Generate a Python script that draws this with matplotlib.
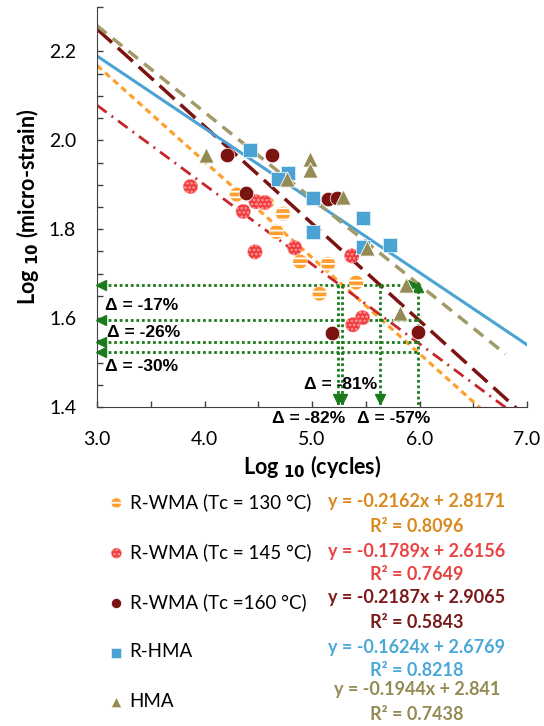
import numpy as np
import matplotlib
matplotlib.use("Agg")
import matplotlib.pyplot as plt

plt.rcParams['font.family'] = ['Lato', 'DejaVu Sans']
plt.rcParams['hatch.linewidth'] = 1.3

# data (log10 cycles, log10 micro-strain)
wma130_x = [4.30, 4.58, 4.73, 4.67, 4.89, 5.15, 5.07, 5.41]
wma130_y = [1.878, 1.860, 1.835, 1.794, 1.727, 1.722, 1.655, 1.680]
wma145_x = [3.87, 4.36, 4.48, 4.56, 4.47, 4.84, 5.37, 5.47, 5.38]
wma145_y = [1.896, 1.840, 1.862, 1.860, 1.749, 1.758, 1.740, 1.601, 1.585]
wma160_x = [4.21, 4.63, 4.39, 5.15, 5.23, 5.19, 5.99]
wma160_y = [1.968, 1.968, 1.882, 1.867, 1.871, 1.567, 1.569]
rhma_x = [4.42, 4.78, 4.68, 5.01, 5.01, 5.47, 5.47, 5.73]
rhma_y = [1.979, 1.927, 1.912, 1.871, 1.794, 1.826, 1.761, 1.765]
hma_x = [4.01, 4.98, 4.98, 5.29, 4.77, 5.51, 5.87, 5.82]
hma_y = [1.968, 1.957, 1.934, 1.873, 1.912, 1.758, 1.675, 1.612]

# trend lines: slope, intercept, R2, x end
slopes = [-0.2162, -0.1789, -0.2187, -0.1624, -0.1944]
intercepts = [2.8171, 2.6156, 2.9065, 2.6769, 2.841]
r2 = ["0.8096", "0.7649", "0.5843", "0.8218", "0.7438"]
x_ends = [7.0, 7.0, 7.0, 7.0, 6.8]
names = ["R-WMA (Tc = 130 °C)", "R-WMA (Tc = 145 °C)", "R-WMA (Tc =160 °C)", "R-HMA", "HMA"]
eq_text = ["y = -0.2162x + 2.8171", "y = -0.1789x + 2.6156", "y = -0.2187x + 2.9065",
           "y = -0.1624x + 2.6769", "y = -0.1944x + 2.841"]

# green reduction guides
h_levels = [1.675, 1.596, 1.547, 1.524]
v_levels = [5.24, 5.28, 5.63, 5.99]
h_labels = ["Δ = -17%", "Δ = -26%", "Δ = -30%"]
v_labels = ["Δ = -82%", "Δ = -81%", "Δ = -57%"]

c_or = "#FF9F2E"
c_red = "#EE3A3C"
c_dred = "#7B1410"
c_blue = "#4BA3D3"
c_kh = "#948A54"
c_green = "#1B7A1B"

fig = plt.figure(figsize=(5.44, 7.26), dpi=100)
ax = fig.add_axes([97/544, 1-407/726, 430/544, 400/726])

# trend lines
line_cols = [c_or, "#C8252A", c_dred, c_blue, "#A39A6A"]
line_lw = [2.3, 2.0, 2.5, 2.2, 2.5]
line_dash = [(2.0, 1.4), (4.3, 2.2, 0.7, 2.2), (5.8, 2.3), None, (3.5, 2.3)]
for m, b, xe, c, lw, d in zip(slopes, intercepts, x_ends, line_cols, line_lw, line_dash):
    xx = np.array([3.0, xe])
    ln, = ax.plot(xx, m * xx + b, color=c, lw=lw, zorder=2)
    if d is not None:
        ln.set_dashes(d)

# green guides
for i, y in enumerate(h_levels):
    ax.plot([3.0, 5.99], [y, y], color=c_green, lw=2, ls=(0, (1, 1)), zorder=3)
    ax.plot(3.04, y, marker='<', color=c_green, ms=7, clip_on=False, zorder=4)
for i, x in enumerate(v_levels):
    ax.plot([x, x], [h_levels[0], 1.4], color=c_green, lw=2, ls=(0, (1, 1)), zorder=3)
    if i < 3:
        ax.plot(x, 1.418, marker='v', color=c_green, ms=7, zorder=4)
    else:
        ax.plot(x, h_levels[0] - 0.006, marker='^', color=c_green, ms=7, zorder=4)
        ax.plot(x - 0.05, h_levels[0], marker='>', color=c_green, ms=7, zorder=4)

# scatter points
s = 110
sc1 = ax.scatter(wma130_x, wma130_y, s=s, facecolor=c_or, edgecolor='white', linewidths=0.3,
                 hatch='---', zorder=5)
sc2 = ax.scatter(wma145_x, wma145_y, s=s, facecolor=c_red, edgecolor='#FF9A9A', linewidths=0.3,
                 hatch='....', zorder=5)
sc3 = ax.scatter(wma160_x, wma160_y, s=s, facecolor=c_dred, edgecolor='white', linewidths=0.5, zorder=5)
sc4 = ax.scatter(rhma_x, rhma_y, s=110, marker='s', facecolor=c_blue, edgecolor='#DDEEF8', linewidths=0.6, zorder=5)
sc5 = ax.scatter(hma_x, hma_y, s=120, marker='^', facecolor=c_kh, edgecolor='white', linewidths=0.6, zorder=5)

# delta labels
tfont = dict(fontsize=12.5, fontweight='bold', family=['Liberation Sans', 'DejaVu Sans'])
ax.text(3.07, 1.628, h_labels[0], va='center', **tfont)
ax.text(3.09, 1.567, h_labels[1], va='center', **tfont)
ax.text(3.07, 1.490, h_labels[2], va='center', **tfont)
ax.text(4.63, 1.375, v_labels[0], va='center', clip_on=False, **tfont)
ax.text(4.93, 1.450, v_labels[1], va='center', **tfont)
ax.text(5.42, 1.375, v_labels[2], va='center', clip_on=False, **tfont)

ax.set_xlim(3.0, 7.0)
ax.set_ylim(1.4, 2.3)
ax.set_xticks(np.arange(3.0, 7.01, 1.0))
ax.set_xticks(np.arange(3.5, 7.0, 1.0), minor=True)
ax.set_yticks([1.4, 1.6, 1.8, 2.0, 2.2])
ax.set_yticks([v for v in np.arange(1.45, 2.301, 0.05) if round(v, 2) not in (1.6, 1.8, 2.0, 2.2)], minor=True)
ax.set_xticklabels(["3.0", "4.0", "5.0", "6.0", "7.0"])
ax.set_yticklabels(["1.4", "1.6", "1.8", "2.0", "2.2"])
ax.tick_params(which='both', direction='in', length=4, width=1, color='#404040', labelsize=14)
ax.tick_params(axis='x', pad=17)
ax.tick_params(axis='y', pad=15)
for sp in ['top', 'right']:
    ax.spines[sp].set_visible(False)
for sp in ['left', 'bottom']:
    ax.spines[sp].set_color('#404040')

ax.set_xlabel(r"Log $_{\mathbf{10}}$ (cycles)", fontsize=15.5, fontweight='bold', labelpad=4)
ax.set_ylabel(r"Log $_{\mathbf{10}}$ (micro-strain)", fontsize=15.5, fontweight='bold', labelpad=6)

# legend
fig.legend([sc1, sc2, sc3, sc4, sc5], names, loc='upper left',
           bbox_to_anchor=(107/544, 1-493/726), frameon=False, fontsize=13.5,
           labelspacing=1.72, handletextpad=0.2, handlelength=1.0, markerscale=0.7,
           borderaxespad=0, borderpad=0)

eq_cols = ["#D98A1E", "#E84444", "#7B1A1A", "#4AA8DA", c_kh]
eq_y = [502, 552, 598, 647, 690]
r2_y = [527, 575, 623, 670, 715]
for t, r, c, ye, yr in zip(eq_text, r2, eq_cols, eq_y, r2_y):
    fig.text(417/544, 1-ye/726, t, color=c, fontsize=13, fontweight='bold', ha='center', va='center')
    fig.text(417/544, 1-yr/726, "R² = " + r, color=c, fontsize=13, fontweight='bold', ha='center', va='center')

fig.savefig("out.png", dpi=100)
